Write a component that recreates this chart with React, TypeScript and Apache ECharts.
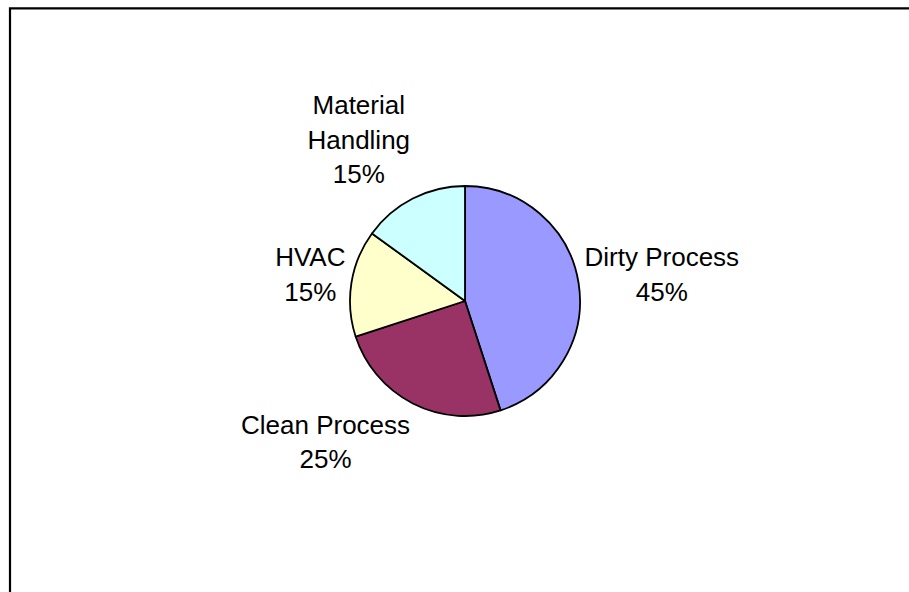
import React, { useEffect, useRef } from "react";
import * as echarts from "echarts";

const categories = ["Dirty Process", "Clean Process", "HVAC", "Material Handling"];
const values = [45, 25, 15, 15];
const colors = ["#9999FF", "#993366", "#FFFFCC", "#CCFFFF"];

const CX = 465;
const CY = 301;
const R = 115;
const GAP = 6;

function clamp(v: number) {
  return Math.max(-1, Math.min(1, v));
}

export default function App() {
  const ref = useRef<HTMLDivElement>(null);
  useEffect(() => {
    if (!ref.current) return;
    const chart = echarts.init(ref.current, undefined, { renderer: "svg" });
    const total = values.reduce((a, b) => a + b, 0);
    const mids: number[] = [];
    let acc = 0;
    values.forEach((v) => {
      mids.push(((acc + v / 2) / total) * Math.PI * 2);
      acc += v;
    });
    chart.setOption({
      animation: false,
      backgroundColor: "#ffffff",
      graphic: [
        {
          type: "rect",
          shape: { x: 10, y: 8.3, width: 1000, height: 1000 },
          style: { fill: "none", stroke: "#000", lineWidth: 2.2 },
          silent: true,
        },
      ],
      series: [
        {
          type: "pie",
          center: [CX, CY],
          radius: R,
          startAngle: 90,
          clockwise: true,
          data: categories.map((c, i) => ({
            name: c,
            value: values[i],
            itemStyle: { color: colors[i] },
          })),
          itemStyle: { borderColor: "#000", borderWidth: 1.8 },
          label: {
            show: true,
            position: "outside",
            fontFamily: "Liberation Sans, Arial, sans-serif",
            fontSize: 26,
            lineHeight: 34.5,
            color: "#000",
            align: "center",
            formatter: (p: any) => {
              const name = p.name.length > 14 ? p.name.replace(" ", "\n") : p.name;
              return name + "\n" + Math.round(p.percent) + "%";
            },
          },
          labelLine: { show: false },
          emphasis: { disabled: true },
          labelLayout: (params: any) => {
            const th = mids[params.dataIndex];
            const dx = Math.sin(th);
            const dy = -Math.cos(th);
            const ax = CX + dx * (R + GAP);
            const ay = CY + dy * (R + GAP);
            const hw = params.labelRect.width / 2;
            const hh = params.labelRect.height / 2;
            return {
              x: ax + clamp(dx * 2.3) * hw,
              y: ay + clamp(dy * 1.15) * hh - 1.5,
              align: "center",
              verticalAlign: "middle",
            };
          },
        },
      ],
    });
    return () => chart.dispose();
  }, []);
  return (
    <div
      ref={ref}
      style={{ position: "fixed", left: 0, top: 0, width: 909, height: 592 }}
    />
  );
}
